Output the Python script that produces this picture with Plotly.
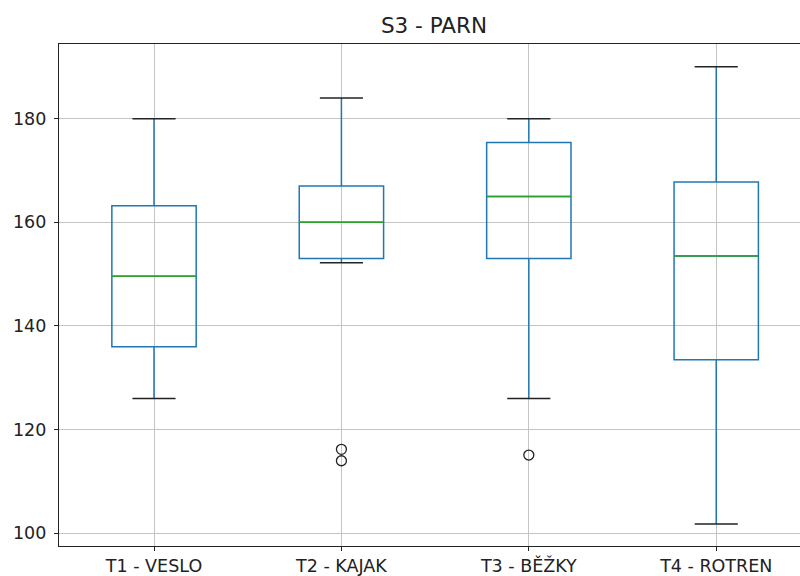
import plotly.graph_objects as go

categories = ["T1 - VESLO", "T2 - KAJAK", "T3 - BĚŽKY", "T4 - ROTREN"]
q1 = [136.0, 153.0, 153.0, 133.5]
median = [149.6, 160.0, 165.0, 153.5]
q3 = [163.2, 167.0, 175.4, 167.8]
lower = [126.0, 152.2, 126.0, 101.8]
upper = [180.0, 184.0, 180.0, 190.0]
outlier_cat = [2, 2, 3]
outlier_val = [116.2, 114.0, 115.1]

positions = list(range(1, len(categories) + 1))
BOX_W = 0.45
CAP_HALF = 0.115
MED_HALF = BOX_W / 2

fig = go.Figure()

for i, p in enumerate(positions):
    fig.add_trace(go.Box(
        x=[p], q1=[q1[i]], median=[median[i]], q3=[q3[i]],
        lowerfence=[lower[i]], upperfence=[upper[i]],
        width=BOX_W, whiskerwidth=0,
        line=dict(color="#1f77b4", width=1.5),
        fillcolor="rgba(0,0,0,0)",
        boxpoints=False, showlegend=False, hoverinfo="skip",
    ))

# medians
mx, my = [], []
for i, p in enumerate(positions):
    mx += [p - MED_HALF, p + MED_HALF, None]
    my += [median[i], median[i], None]
fig.add_trace(go.Scatter(x=mx, y=my, mode="lines",
                         line=dict(color="#2ca02c", width=1.5),
                         showlegend=False, hoverinfo="skip"))

# caps
cx, cy = [], []
for i, p in enumerate(positions):
    for v in (lower[i], upper[i]):
        cx += [p - CAP_HALF, p + CAP_HALF, None]
        cy += [v, v, None]
fig.add_trace(go.Scatter(x=cx, y=cy, mode="lines",
                         line=dict(color="#222222", width=1.5),
                         showlegend=False, hoverinfo="skip"))

# outliers
fig.add_trace(go.Scatter(x=outlier_cat, y=outlier_val, mode="markers",
                         marker=dict(symbol="circle-open", size=10,
                                     color="#222222", line=dict(width=1.3)),
                         showlegend=False, hoverinfo="skip"))

fig.update_layout(
    width=800, height=576,
    margin=dict(l=59, r=0, t=44, b=30),
    paper_bgcolor="white", plot_bgcolor="white",
    font=dict(family="DejaVu Sans", size=17.5, color="#222222"),
    title=dict(text="S3 - PARN", x=0.506, xref="paper", xanchor="center",
               y=1 - 25 / 576, yref="container", yanchor="middle",
               font=dict(size=21.5, color="#222222")),
)
fig.update_xaxes(
    range=[0.493, 4.447], tickvals=positions, ticktext=categories,
    showgrid=True, gridcolor="#c4c4c4", gridwidth=1,
    showline=True, linecolor="#222222", linewidth=1.3, mirror=True,
    ticks="outside", ticklen=4, tickcolor="#222222", zeroline=False,
    tickfont=dict(size=17.5),
)
fig.update_yaxes(
    range=[97.55, 194.41], tickvals=[100, 120, 140, 160, 180],
    showgrid=True, gridcolor="#c4c4c4", gridwidth=1,
    showline=True, linecolor="#222222", linewidth=1.3, mirror=False,
    ticks="outside", ticklen=4, tickcolor="#222222", zeroline=False,
    tickfont=dict(size=17.5), ticklabelstandoff=4,
)

fig.write_html("out.html")
